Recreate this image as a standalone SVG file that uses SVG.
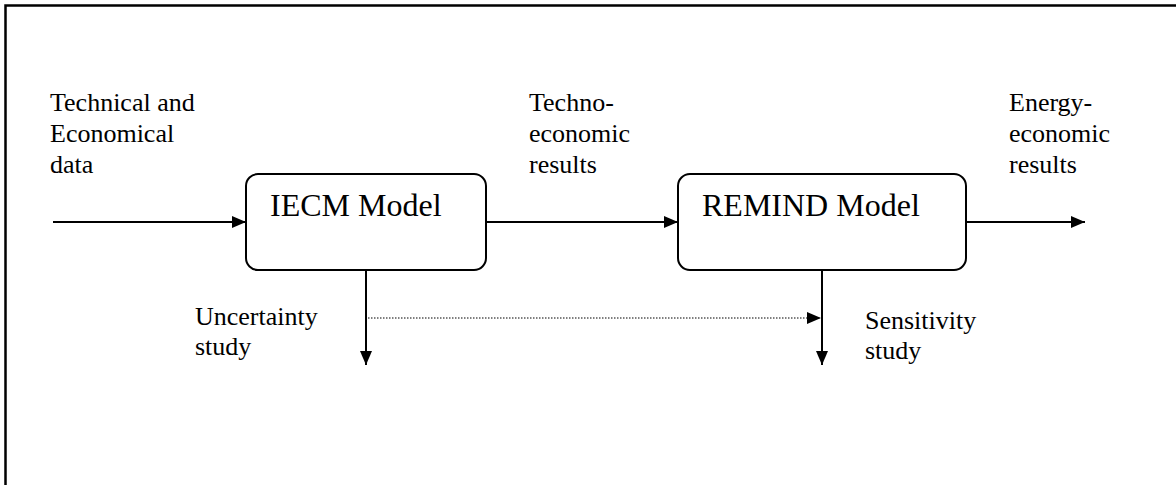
<svg xmlns="http://www.w3.org/2000/svg" width="1176" height="485" viewBox="0 0 1176 485">
<style>
.lbl{font-family:"Liberation Serif","Times New Roman",serif;font-size:26px;fill:#000}
.ttl{font-family:"Liberation Serif","Times New Roman",serif;font-size:32px;fill:#000}
.box{fill:#fff;stroke:#000;stroke-width:2}
.ln{fill:none;stroke:#000;stroke-width:2}
.dot{fill:none;stroke:#000;stroke-width:1;stroke-dasharray:1.5 1.5}
</style>
<defs>
<marker id="ah" markerWidth="14" markerHeight="12" refX="14" refY="6" orient="auto" markerUnits="userSpaceOnUse">
<path d="M0,0 L14,6 L0,12 Z" fill="#000"/>
</marker>
</defs>
<rect width="1176" height="485" fill="#fff"/>
<path d="M5.5,490 V5.5 H1180" fill="none" stroke="#000" stroke-width="2.5"/>
<g id="connectors">
<line class="ln" x1="53" y1="222" x2="246" y2="222" marker-end="url(#ah)"/>
<line class="ln" x1="486" y1="222" x2="678" y2="222" marker-end="url(#ah)"/>
<line class="ln" x1="966" y1="222" x2="1085" y2="222" marker-end="url(#ah)"/>
<line class="ln" x1="366" y1="270" x2="366" y2="365" marker-end="url(#ah)"/>
<line class="ln" x1="822" y1="270" x2="822" y2="365" marker-end="url(#ah)"/>
<line class="dot" x1="368" y1="318" x2="821" y2="318" marker-end="url(#ah)"/>
</g>
<g id="iecm">
<rect class="box" x="246" y="174" width="240" height="96" rx="12"/>
<text class="ttl" x="270" y="216">IECM Model</text>
</g>
<g id="remind">
<rect class="box" x="678" y="174" width="288" height="96" rx="12"/>
<text class="ttl" x="702" y="216">REMIND Model</text>
</g>
<g id="input-label">
<text class="lbl" x="50" y="111">Technical and</text>
<text class="lbl" x="50" y="142">Economical</text>
<text class="lbl" x="50" y="173">data</text>
</g>
<g id="techno-label">
<text class="lbl" x="529" y="111">Techno-</text>
<text class="lbl" x="529" y="142">economic</text>
<text class="lbl" x="529" y="173">results</text>
</g>
<g id="energy-label">
<text class="lbl" x="1009" y="111">Energy-</text>
<text class="lbl" x="1009" y="142">economic</text>
<text class="lbl" x="1009" y="173">results</text>
</g>
<g id="uncertainty-label">
<text class="lbl" x="195" y="325">Uncertainty</text>
<text class="lbl" x="195" y="355">study</text>
</g>
<g id="sensitivity-label">
<text class="lbl" x="865" y="329">Sensitivity</text>
<text class="lbl" x="865" y="359">study</text>
</g>
</svg>
